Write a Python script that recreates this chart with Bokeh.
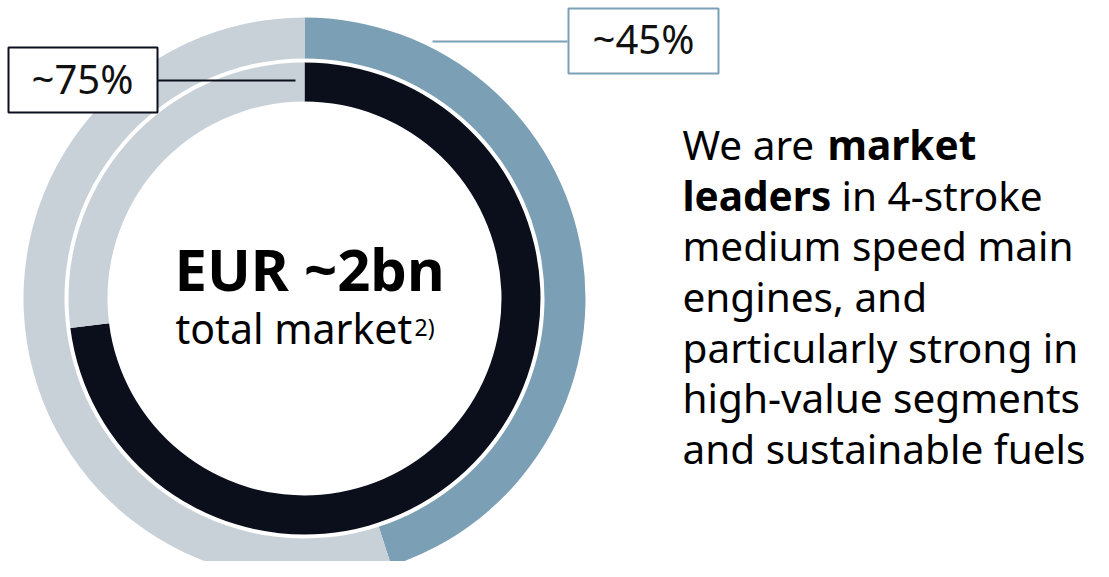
import math
from bokeh.plotting import figure
from bokeh.models import Range1d, ColumnDataSource
from bokeh.core.properties import value
from bokeh.embed import file_html
from bokeh.resources import INLINE

# ---- data ----
outer_segments = ["Market share", "Rest of market"]
outer_values = [45, 55]
outer_colors = ["#7BA0B5", "#C9D1D8"]

inner_segments = ["Share of segment", "Rest"]
inner_values = [73, 27]
inner_colors = ["#0B0F1B", "#C9D1D8"]

outer_label = "~45%"
inner_label = "~75%"
center_title = "EUR ~2bn"
center_sub = "total market"
center_sup = "2)"

FONT = "Noto Sans"
W, H = 1093, 561


def Y(img_y):
    # picture row -> data y
    return H - img_y


def mid(baseline, fs):
    # baseline row -> row for 'middle' anchored text
    return Y(baseline - 0.4 * fs)


p = figure(width=W, height=H, x_range=Range1d(0, W), y_range=Range1d(0, H),
           output_backend="svg", toolbar_location=None,
           x_axis_location=None, y_axis_location=None, min_border=0)
p.outline_line_color = None
p.xgrid.visible = False
p.ygrid.visible = False
p.background_fill_color = "white"
p.border_fill_color = "white"

cx, cy = 304, Y(298)


def ring(values, colors, r_in, r_out):
    total = float(sum(values))
    cum = 0.0
    starts, ends = [], []
    for v in values:
        a = cum / total
        b = (cum + v) / total
        starts.append(math.pi / 2 - b * 2 * math.pi)
        ends.append(math.pi / 2 - a * 2 * math.pi)
        cum += v
    src = ColumnDataSource(dict(x=[cx] * len(values), y=[cy] * len(values),
                                s=starts, e=ends, c=colors))
    p.annular_wedge(x="x", y="y", inner_radius=r_in, outer_radius=r_out,
                    start_angle="s", end_angle="e", direction="anticlock",
                    fill_color="c", line_color=None, source=src)


ring(outer_values, outer_colors, 240, 281)
ring(inner_values, inner_colors, 197, 236)

# ---- callouts ----
blue = outer_colors[0]
dark = inner_colors[0]
p.segment(x0=[432], y0=[Y(41)], x1=[567], y1=[Y(41)], line_color=blue, line_width=2)
p.quad(left=[568], right=[718], top=[Y(8)], bottom=[Y(73)], fill_color="white",
       line_color=blue, line_width=2)
p.text(x=[643], y=[Y(38)], text=[outer_label], text_font=value(FONT), text_font_size="40px",
       text_align="center", text_baseline="middle", text_color="#111111")

p.segment(x0=[157], y0=[Y(80)], x1=[295], y1=[Y(80)], line_color=dark, line_width=2)
p.quad(left=[8], right=[157], top=[Y(47)], bottom=[Y(112)], fill_color="white",
       line_color=dark, line_width=2)
p.text(x=[82], y=[Y(78)], text=[inner_label], text_font=value(FONT), text_font_size="40px",
       text_align="center", text_baseline="middle", text_color="#111111")

# ---- center text ----
p.text(x=[174], y=[mid(291, 58)], text=[center_title], text_font=value(FONT), text_font_size="58px",
       text_font_style="bold", text_align="left", text_baseline="middle", text_color="#000000")
p.text(x=[175], y=[mid(344, 41)], text=[center_sub], text_font=value(FONT), text_font_size="41px",
       text_align="left", text_baseline="middle", text_color="#000000")
p.text(x=[414], y=[mid(336, 23)], text=[center_sup], text_font=value(FONT), text_font_size="23px",
       text_align="left", text_baseline="middle", text_color="#000000")

# ---- right-hand statement ----
tx = 682
FS = 40.5
lines = [
    [("We are", "normal", 0), ("market", "bold", 145)],
    [("leaders", "bold", 0), ("in 4-stroke", "normal", 159)],
    [("medium speed main", "normal", 0)],
    [("engines, and", "normal", 0)],
    [("particularly strong in", "normal", 0)],
    [("high-value segments", "normal", 0)],
    [("and sustainable fuels", "normal", 0)],
]
base = 160
step = 50.7
for i, segs in enumerate(lines):
    for txt, style, dx in segs:
        p.text(x=[tx + dx], y=[mid(base + i * step, FS)], text=[txt], text_font=value(FONT),
               text_font_size=f"{FS}px", text_font_style=style, text_align="left",
               text_baseline="middle", text_color="#000000")

open("out.html", "w").write(file_html(p, INLINE))
